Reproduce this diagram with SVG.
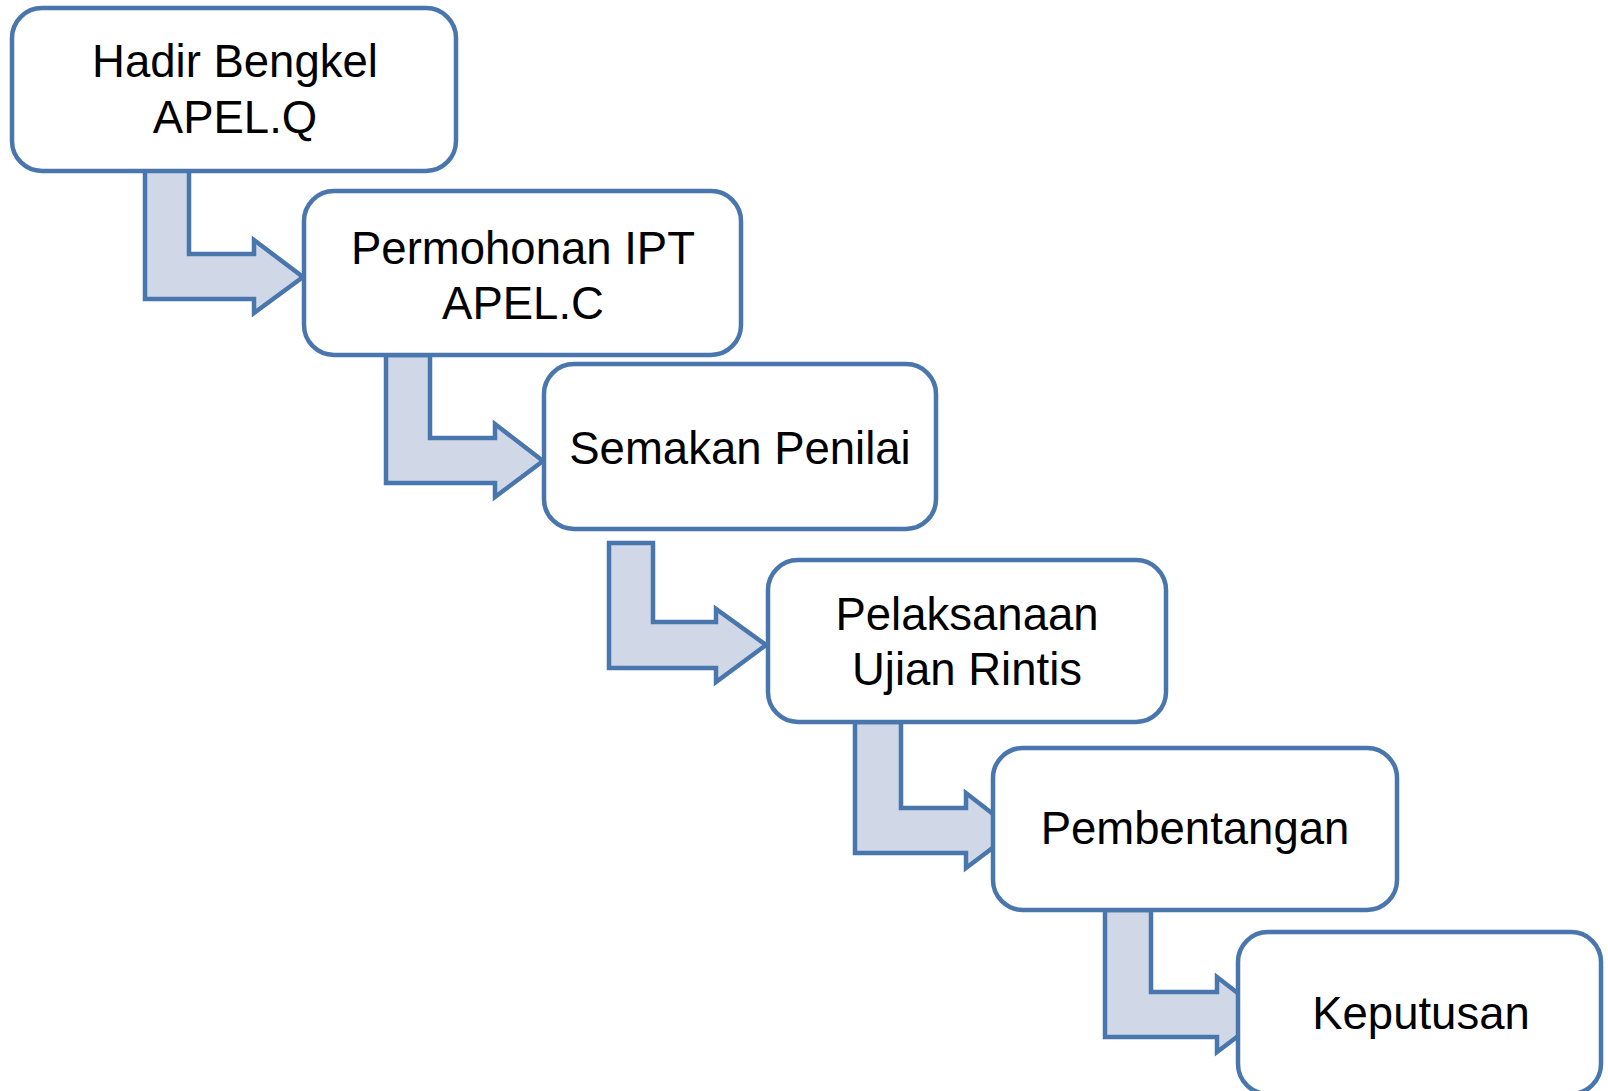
<svg xmlns="http://www.w3.org/2000/svg" width="1608" height="1091" viewBox="0 0 1608 1091">
<style>
.box{fill:#ffffff;stroke:#4a76ae;stroke-width:4.5}
.arr{fill:#d0d8e8;stroke:#4a76ae;stroke-width:4.5;stroke-linejoin:miter}
.t{font-family:"Liberation Sans",Arial,sans-serif;font-size:45.5px;fill:#000;text-anchor:middle}
</style>
<rect width="1608" height="1091" fill="#ffffff"/>
<g id="connectors">
<path class="arr" d="M145,170 L145,299 L254,299 L254,313 L303,277 L254,240 L254,254 L189,254 L189,170 Z"/>
<path class="arr" d="M386,355 L386,483 L495,483 L495,497 L543,461 L495,424 L495,438 L430,438 L430,355 Z"/>
<path class="arr" d="M609,543 L609,668 L716,668 L716,682 L766,645 L716,609 L716,622 L653,622 L653,543 Z"/>
<path class="arr" d="M855,722 L855,853 L966,853 L966,868 L1015,831 L966,793 L966,808 L901,808 L901,722 Z"/>
<path class="arr" d="M1105,910 L1105,1037 L1217,1037 L1217,1052 L1266,1015 L1217,977 L1217,992 L1151,992 L1151,910 Z"/>
</g>
<g id="n1"><rect class="box" x="12" y="8" width="444" height="163" rx="30"/>
<text class="t" x="235" y="77">Hadir Bengkel</text><text class="t" x="235" y="133">APEL.Q</text></g>
<g id="n2"><rect class="box" x="304" y="191" width="437" height="164" rx="30"/>
<text class="t" x="523" y="264">Permohonan IPT</text><text class="t" x="523" y="319">APEL.C</text></g>
<g id="n3"><rect class="box" x="544" y="364" width="392" height="165" rx="30"/>
<text class="t" x="740" y="464">Semakan Penilai</text></g>
<g id="n4"><rect class="box" x="768" y="560" width="398" height="162" rx="30"/>
<text class="t" x="967" y="630">Pelaksanaan</text><text class="t" x="967" y="685">Ujian Rintis</text></g>
<g id="n5"><rect class="box" x="993" y="748" width="404" height="162" rx="30"/>
<text class="t" x="1195" y="844">Pembentangan</text></g>
<g id="n6"><rect class="box" x="1238" y="932" width="363" height="162" rx="30"/>
<text class="t" x="1421" y="1029">Keputusan</text></g>
</svg>
